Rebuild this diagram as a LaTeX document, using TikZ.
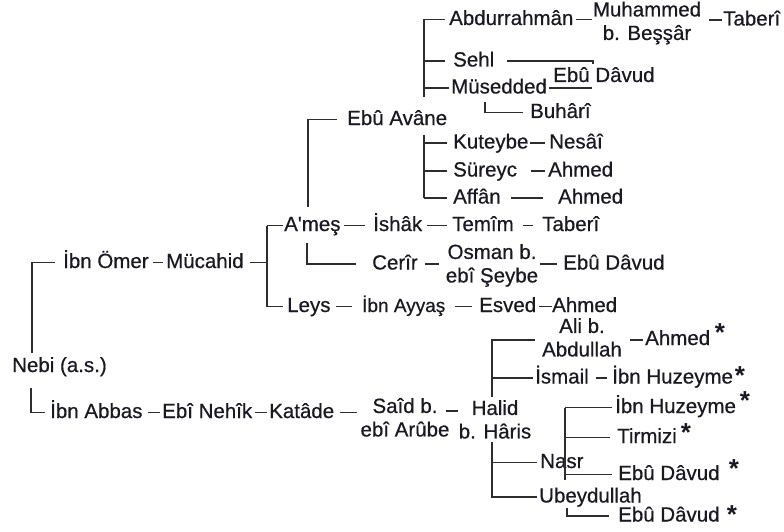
\documentclass[tikz,border=0pt]{standalone}
\usepackage{fontspec}
\setmainfont{Liberation Sans}
\usetikzlibrary{calc}
\definecolor{inkc}{RGB}{25,25,35}
\definecolor{linec}{RGB}{45,45,45}
\newcommand\nmfont{\fontsize{20.5}{23.5}\selectfont\addfontfeature{FakeBold=0.6}}
\newcommand\smfont{\fontsize{19}{22}\selectfont\addfontfeature{FakeBold=0.6}}
\newcommand\starfont{\fontsize{26}{28}\selectfont\bfseries}
\tikzset{
  nm/.style={anchor=west, inner sep=0pt, text height=15pt, text depth=4pt, text=inkc, font=\nmfont},
  nmm/.style={anchor=center, inner sep=0pt, align=center, text=inkc, font=\nmfont},
  ln/.style={draw=linec, line width=1.1pt},
  starmark/.style={anchor=base, inner sep=0pt, text=inkc, font=\starfont},
}
\begin{document}
\begin{tikzpicture}[x=1pt,y=-1pt]
\useasboundingbox (0,0) rectangle (784,532);
% names
\node[nm] (abd) at (449,19.5) {Abdurrahmân};
\node[nmm] (muh) at (647,23.5) {\strut Muhammed\\\strut b. Beşşâr};
\node[nm] (tab1) at (723,20) {Taberî};
\node[nm] (sehl) at (453,61) {Sehl};
\node[nm] (ebud1) at (553,76.5) {Ebû Dâvud};
\node[nm] (mus) at (451,88) {Müsedded};
\node[nm] (buh) at (530,112.5) {Buhârî};
\node[nm] (eba) at (347,119.5) {Ebû Avâne};
\node[nm] (kut) at (453,143) {Kuteybe};
\node[nm] (nes) at (549,143) {Nesâî};
\node[nm] (sur) at (453,171) {Süreyc};
\node[nm] (ahm1) at (548,171) {Ahmed};
\node[nm] (aff) at (453,198) {Affân};
\node[nm] (ahm2) at (558,198) {Ahmed};
\node[nm] (ibo) at (63,262.5) {İbn Ömer};
\node[nm] (muc) at (166,262.5) {Mücahid};
\node[nm] (ame) at (284,225.5) {A\textquotesingle meş};
\node[nm] (ish) at (373,225.5) {İshâk};
\node[nm] (tem) at (452,225.5) {Temîm};
\node[nm] (tab2) at (542,225.5) {Taberî};
\node[nm] (cer) at (372,264) {Cerîr};
\node[nmm] (osm) at (492,266) {\strut Osman b.\\\strut ebî Şeybe};
\node[nm] (ebud2) at (563,264) {Ebû Dâvud};
\node[nm] (leys) at (287,306.5) {Leys};
\node[nm, font=\smfont] (ayy) at (362,306.5) {İbn Ayyaş};
\node[nm] (esv) at (479,306.5) {Esved};
\node[nm] (ahm3) at (552,306.5) {Ahmed};
\node[nm] (nebi) at (12,366.5) {Nebi (a.s.)};
\node[nm] (iba) at (50,412.5) {İbn Abbas};
\node[nm] (ebn) at (162,412.5) {Ebî Nehîk};
\node[nm] (kat) at (269,412.5) {Katâde};
\node[nmm] (said) at (405,420) {\strut Saîd b.\\\strut ebî Arûbe};
\node[nmm] (halid) at (495,422) {\strut Halid\\\strut b. Hâris};
\node[nmm] (ali) at (582,340) {\strut Ali b.\\\strut Abdullah};
\node[nm] (ahm4) at (645,339.5) {Ahmed};
\node[nm] (ism) at (535,378) {İsmail};
\node[nm] (ibh1) at (612,378) {İbn Huzeyme};
\node[nm] (ibh2) at (615,407.5) {İbn Huzeyme};
\node[nm] (tir) at (617,437.5) {Tirmizi};
\node[nm] (nasr) at (540,462.5) {Nasr};
\node[nm] (ebud3) at (618,474.5) {Ebû Dâvud};
\node[nm] (ubey) at (539,497) {Ubeydullah};
\node[nm] (ebud4) at (618,516) {Ebû Dâvud};
% stars
\node[starmark] (s1) at (720,341) {*};
\node[starmark] (s2) at (740,384) {*};
\node[starmark] (s3) at (745,409) {*};
\node[starmark] (s4) at (686,441) {*};
\node[starmark] (s5) at (734,477) {*};
\node[starmark] (s6) at (732,523) {*};
% junctions
\coordinate (v1t) at (424,19.5); \coordinate (v1b) at (424,97);
\coordinate (j1) at (593,64);
\coordinate (j2) at (592,86);
\coordinate (b1) at (485,102);
\coordinate (v2b) at (308,207);
\coordinate (v4t) at (424,135); \coordinate (v4b) at (424,198);
\coordinate (v3t) at (267,225.5); \coordinate (v3b) at (267,306.5);
\coordinate (c1) at (307,243);
\coordinate (n1) at (32,353);
\coordinate (n2) at (31,388);
\coordinate (h1) at (492,397); \coordinate (h2) at (492,442);
\coordinate (r1) at (565,407.5); \coordinate (r2) at (565,480);
\coordinate (u1) at (567,508);
% connectors
\draw[ln] (v1t) -- (v1b);
\draw[ln, shorten >=4pt] (v1t) -- (abd.west);
\draw[ln, shorten >=8pt] (v1t |- sehl.west) -- (sehl.west);
\draw[ln, shorten >=2pt] (v1t |- mus.west) -- (mus.west);
\draw[ln, shorten <=2pt, shorten >=1pt] (abd.east) -- (abd.east -| muh.west);
\draw[ln, shorten <=8pt, shorten >=1pt] (tab1.west -| muh.east) -- (tab1.west);
\draw[ln, shorten <=13pt] (sehl.east) -- (sehl.east -| j1) -- (j1);
\draw[ln, shorten <=2pt] (mus.east) -- (mus.east -| j2);
\draw[ln, shorten >=7pt] (b1) |- (buh.west);
\draw[ln, shorten >=10pt] (v2b) |- (eba.west);
\draw[ln] (v4t) -- (v4b);
\draw[ln, shorten >=6pt] (v4t |- kut.west) -- (kut.west);
\draw[ln, shorten >=6pt] (v4t |- sur.west) -- (sur.west);
\draw[ln, shorten >=6pt] (v4t |- aff.west) -- (aff.west);
\draw[ln, shorten <=1pt, shorten >=4pt] (kut.east) -- (nes.west);
\draw[ln, shorten <=14pt, shorten >=3pt] (sur.east) -- (ahm1.west);
\draw[ln, shorten <=10pt, shorten >=15pt] (aff.east) -- (ahm2.west);
\draw[ln, shorten <=4pt, shorten >=3pt] (ibo.east) -- (muc.west);
\draw[ln, shorten <=6pt] (muc.east) -- (muc.east -| v3t);
\draw[ln] (v3t) -- (v3b);
\draw[ln, shorten >=1pt] (v3t) -- (ame.west);
\draw[ln, shorten >=4pt] (v3b) -- (leys.west);
\draw[ln, shorten <=3pt, shorten >=8pt] (ame.east) -- (ish.west);
\draw[ln, shorten <=5pt, shorten >=5pt] (ish.east) -- (tem.west);
\draw[ln, shorten <=9pt, shorten >=9pt] (tem.east) -- (tab2.west);
\draw[ln, shorten >=16pt] (c1) |- (cer.west);
\draw[ln, shorten <=7pt, shorten >=7pt] (cer.east) -- (cer.east -| osm.west);
\draw[ln, shorten <=2pt, shorten >=6pt] (ebud2.west -| osm.east) -- (ebud2.west);
\draw[ln, shorten <=5pt, shorten >=10pt] (leys.east) -- (ayy.west);
\draw[ln, shorten <=10pt, shorten >=7pt] (ayy.east) -- (esv.west);
\draw[ln, shorten <=3pt] (esv.east) -- (ahm3.west);
\draw[ln, shorten >=8pt] (n1) |- (ibo.west);
\draw[ln, shorten >=5pt] (n2) |- (iba.west);
\draw[ln, shorten <=5pt, shorten >=2pt] (iba.east) -- (ebn.west);
\draw[ln, shorten <=3pt, shorten >=2pt] (ebn.east) -- (kat.west);
\draw[ln, shorten <=6pt, shorten >=3pt] (kat.east) -- (kat.east -| said.west);
\draw[ln] ($(said.east)+(-4,-9)$) -- ($(halid.west)+(-1,-11)$);
\draw[ln, shorten >=7pt] (h1) |- (ali.west);
\draw[ln, shorten >=2pt] (h1 |- ism.west) -- (ism.west);
\draw[ln, shorten >=3pt] (h2 |- nasr.west) -- (nasr.west);
\draw[ln, shorten >=2pt] (h2) |- (ubey.west);
\draw[ln, shorten <=8pt, shorten >=2pt] (ali.east) -- (ali.east -| ahm4.west);
\draw[ln, shorten <=7pt, shorten >=5pt] (ism.east) -- (ibh1.west);
\draw[ln] (r1) -- (r2);
\draw[ln, shorten >=3pt] (r1) -- (ibh2.west);
\draw[ln, shorten >=7pt] (r1 |- tir.west) -- (tir.west);
\draw[ln, shorten >=6pt] (r1 |- ebud3.west) -- (ebud3.west);
\draw[ln, shorten >=9pt] (u1) |- (ebud4.west);
\end{tikzpicture}
\end{document}
